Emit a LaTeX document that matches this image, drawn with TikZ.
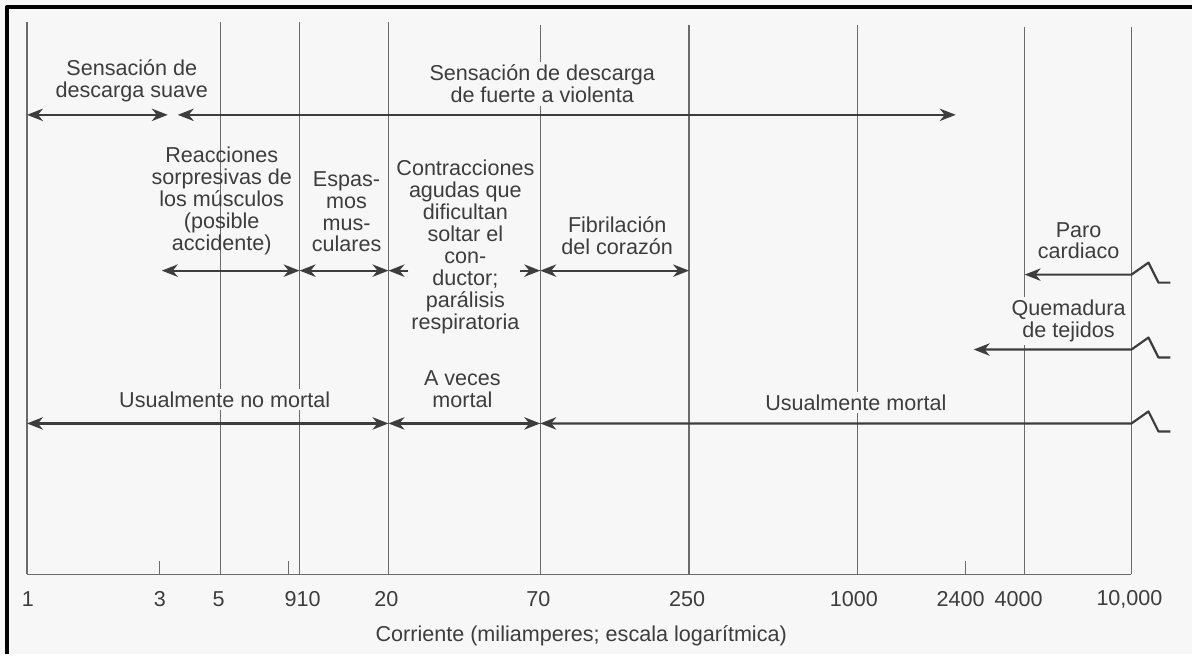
\documentclass[tikz,border=0pt]{standalone}
\usepackage{fontspec}
\setmainfont{Liberation Sans}
\usetikzlibrary{arrows.meta,calc}

\definecolor{papel}{gray}{0.97}
\definecolor{tinta}{gray}{0.24}
\definecolor{gris}{gray}{0.42}

\begin{document}
\begin{tikzpicture}[x=0.5pt,y=-0.5pt,line join=round,
  every node/.style={text=tinta,align=center,inner sep=0pt,font=\fontsize{10.8}{11}\selectfont},
  raya/.style={draw=gris,line width=0.6pt},
  flecha/.style={draw=tinta,line width=1.1pt,-{Stealth[length=8pt,width=6.2pt,inset=2.5pt]}},
  doble/.style={draw=tinta,line width=1.1pt,{Stealth[length=8pt,width=6.2pt,inset=2.5pt]}-{Stealth[length=8pt,width=6.2pt,inset=2.5pt]}},
  tapa/.style={fill=papel,inner ysep=1.5pt}]

  \fill[papel] (0,0) rectangle (1194,655);
  \draw[line width=1.6pt] (7,655) -- (7,7) -- (1194,7);

  % escala logaritmica
  \foreach \n/\x/\t in {1/27/22,5/221/22,10/300/22,20/389/22,70/541/25,250/690/25,1000/859/25,4000/1026/27,10000/1133/27}{
    \coordinate (m\n) at (\x,575);
    \draw[raya] (\x,\t) -- (m\n);
  }
  \foreach \n/\x in {3/160,9/289,2400/967}{
    \coordinate (m\n) at (\x,575);
    \draw[raya] (m\n) -- ++(0,-13);
  }
  \draw[raya] (m1) -- (m10000);

  \foreach \x/\t [count=\i] in {28/1,160/3,219/5,303/910,387/20,539/70,688/250,855/1000,962/2400,1020/4000,1131/{10,000}}
    \node (et\i) at (\x,600) {\t};
  \node (eje) at (582,637) {Corriente (miliamperes; escala logarítmica)};

  % filas
  \coordinate (r1) at (0,115);
  \coordinate (r2) at (0,271);
  \coordinate (r3) at (0,275);
  \coordinate (r4) at (0,350);
  \coordinate (r5) at (0,424);

  \node (suave) at (132,81) {Sensación de\\descarga suave};
  \node[tapa] (fuerte) at (543,84) {Sensación de descarga\\de fuerte a violenta};
  \node (reac) at (222,201) {Reacciones\\sorpresivas de\\los músculos\\(posible\\accidente)};
  \node (espas) at (347,212) {Espas-\\mos\\mus-\\culares};
  \node (contr) at (466,247) {Contracciones\\agudas que\\dificultan\\soltar el\\con-\\ductor;\\parálisis\\respiratoria};
  \node (fibr) at (618,236) {Fibrilación\\del corazón};
  \node (paro) at (1080,241) {Paro\\cardiaco};
  \node[tapa] (quem) at (1070,321) {Quemadura\\de tejidos};
  \node[tapa,inner xsep=2pt] (nomort) at (225,400) {Usualmente no mortal};
  \node (aveces) at (463,390) {A veces\\mortal};
  \node[tapa,inner xsep=2pt] (mort) at (857,403) {Usualmente mortal};

  \coordinate (suaveFin) at (168,115);
  \coordinate (fuerteIni) at (178,115);
  \coordinate (fuerteFin) at (957,115);
  \coordinate (reacIni) at (162,271);
  \coordinate (quemFin) at (975,350);

  \draw[doble] (m1|-r1) -- (suaveFin);
  \draw[doble] (fuerteIni) -- (fuerteFin);
  \draw[doble] (reacIni) -- (m10|-r2);
  \draw[doble] (m10|-r2) -- (m20|-r2);
  \draw[flecha] ($(m20|-r2)+(20,0)$) -- (m20|-r2);
  \draw[flecha] ($(m70|-r2)+(-20,0)$) -- (m70|-r2);
  \draw[doble] (m70|-r2) -- (m250|-r2);

  % ramas cortadas a la derecha
  \draw[flecha] ($(m10000|-r3)+(39,8)$) -- ++(-12,0) -- ++(-10,-20) -- (m10000|-r3) -- (m4000|-r3);
  \draw[flecha] ($(m10000|-r4)+(39,8)$) -- ++(-12,0) -- ++(-10,-20) -- (m10000|-r4) -- (quemFin);
  \draw[flecha] ($(m10000|-r5)+(39,8)$) -- ++(-12,0) -- ++(-10,-20) -- (m10000|-r5) -- (m70|-r5);
  \draw[doble] (m1|-r5) -- (m20|-r5);
  \draw[doble] (m20|-r5) -- (m70|-r5);
\end{tikzpicture}
\end{document}
